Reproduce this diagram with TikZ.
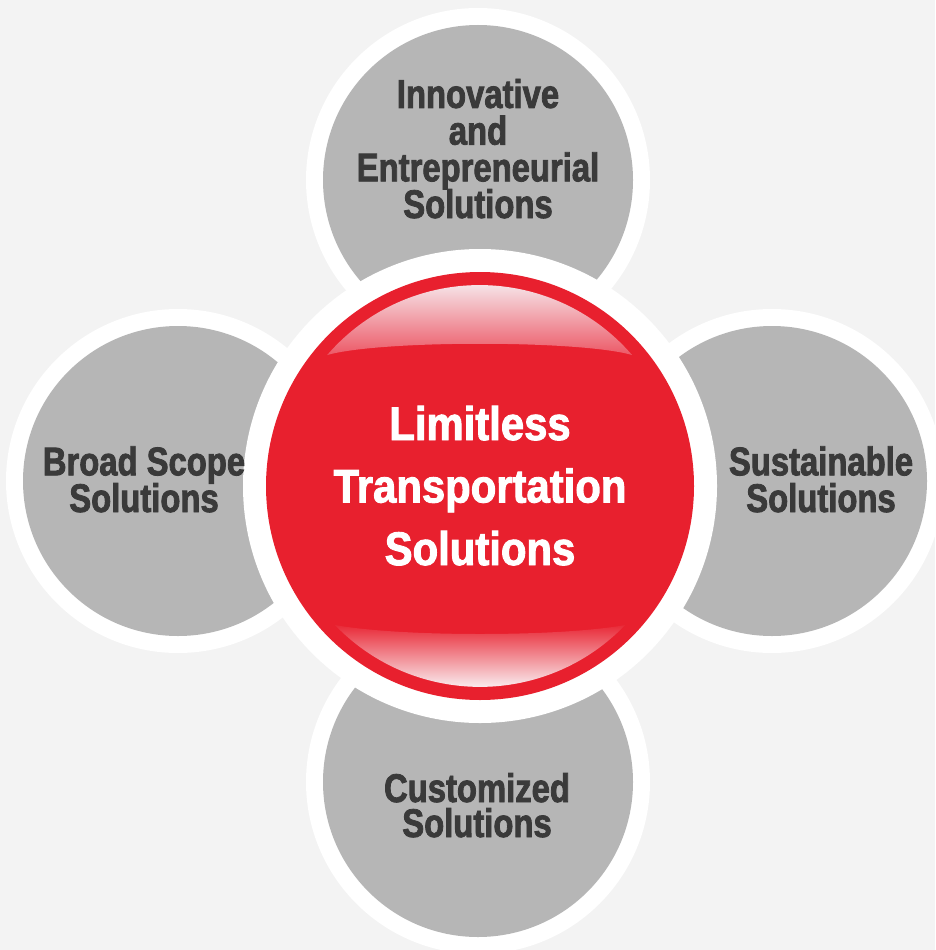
\documentclass[tikz,border=0pt]{standalone}
\usepackage{fontspec}
\newfontfamily\satfont{Liberation Sans}[UprightFont={* Bold},FakeStretch=0.82,FakeBold=2]
\newfontfamily\cenfont{Liberation Sans}[UprightFont={* Bold},FakeStretch=0.89,FakeBold=2]
\newcommand\satfnt{\satfont\fontsize{40}{36.7}\selectfont\lineskiplimit-50pt\relax}
\newcommand\satfntb{\satfont\fontsize{40}{35}\selectfont\lineskiplimit-50pt\relax}
\newcommand\cenfnt{\cenfont\fontsize{47}{62.5}\selectfont\lineskiplimit-50pt\relax}
\definecolor{bgcol}{RGB}{243,243,243}
\definecolor{satgray}{RGB}{182,182,182}
\definecolor{txtgray}{RGB}{58,58,58}
\definecolor{redcol}{RGB}{232,32,46}
\definecolor{glosstop}{RGB}{246,228,232}
\definecolor{glossbot}{RGB}{236,86,100}
\tikzset{
  ringdisc/.style={circle,fill=white,draw=none,minimum size=344pt,inner sep=0pt},
  satdisc/.style={circle,fill=satgray,draw=none,minimum size=310pt,inner sep=0pt},
  sattext/.style={font=\satfnt,align=center,anchor=base,text=txtgray,inner sep=0pt},
  centext/.style={font=\cenfnt,align=center,anchor=base,text=white,inner sep=0pt}
}
\begin{document}
\begin{tikzpicture}[x=1pt,y=-1pt]
\fill[bgcol] (0,0) rectangle (935,950);
\useasboundingbox (0,0) rectangle (935,950);
% satellites
\node[ringdisc] (ringT) at (478,180) {};
\node[ringdisc] (ringB) at (478,782) {};
\node[ringdisc] (ringL) at (178,481) {};
\node[ringdisc] (ringR) at (772,481) {};
\node[satdisc] (satT) at (478,180) {};
\node[satdisc] (satB) at (478,782) {};
\node[satdisc] (satL) at (178,481) {};
\node[satdisc] (satR) at (772,481) {};
% centre
\node[circle,fill=white,minimum size=474pt,inner sep=0pt] (cring) at (480,486) {};
\node[circle,fill=redcol,minimum size=428pt,inner sep=0pt] (cred) at (480,486) {};
% top gloss
\begin{scope}
\clip (632,355) arc[start angle=-40.7,end angle=-139.3,radius=201]
      .. controls (380,340) and (580,340) .. (632,355) -- cycle;
\shade[top color=glosstop,bottom color=glossbot] (270,284) rectangle (690,356);
\end{scope}
% bottom gloss
\begin{scope}
\clip (335,625) arc[start angle=136.2,end angle=43.8,radius=201]
      .. controls (560,637) and (400,637) .. (335,625) -- cycle;
\shade[top color=redcol,bottom color=glosstop!60!white] (270,622) rectangle (690,688);
\end{scope}
% texts (base anchor = baseline of the last line)
\node[sattext] (tT) at (478,218) {Innovative\\and\\Entrepreneurial\\Solutions};
\node[sattext] (tL) at (144,512) {Broad Scope\\Solutions};
\node[sattext] (tR) at (821,512) {Sustainable\\Solutions};
\node[sattext,font=\satfntb] (tB) at (477,837) {Customized\\Solutions};
\node[centext] (tC) at (480,565) {Limitless\\Transportation\\Solutions};
\end{tikzpicture}
\end{document}
